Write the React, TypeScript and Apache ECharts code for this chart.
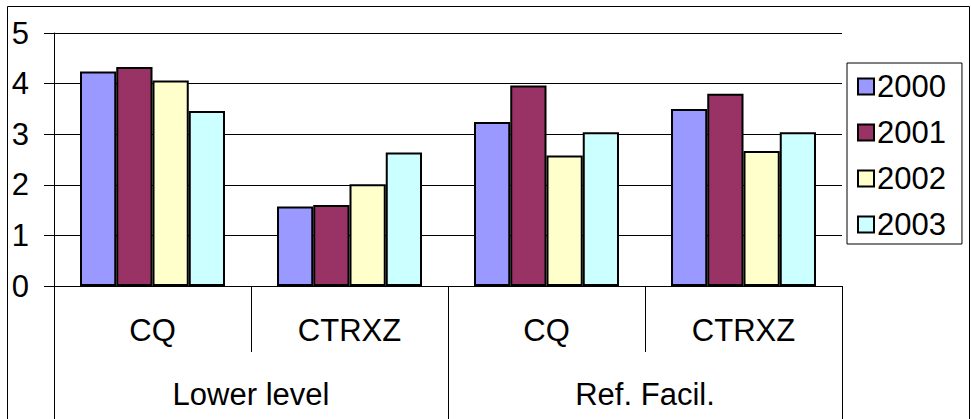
import React, { useEffect, useRef } from "react";
import * as echarts from "echarts";

const subCategories = ["CQ", "CTRXZ", "CQ", "CTRXZ"];
const groupCategories = ["Lower level", "Ref. Facil."];
const seriesNames = ["2000", "2001", "2002", "2003"];
const values2000 = [4.24, 1.57, 3.24, 3.5];
const values2001 = [4.33, 1.6, 3.96, 3.8];
const values2002 = [4.06, 2.01, 2.58, 2.67];
const values2003 = [3.46, 2.64, 3.04, 3.04];
const colors = ["#9999FF", "#993366", "#FFFFCC", "#CCFFFF"];

const FONT = "'Liberation Sans', Arial, sans-serif";
const FS = 31;

export default function App() {
  const ref = useRef<HTMLDivElement>(null);
  useEffect(() => {
    if (!ref.current) return;
    const chart = echarts.init(ref.current, null, { renderer: "svg" });
    const allValues = [values2000, values2001, values2002, values2003];
    chart.setOption({
      animation: false,
      backgroundColor: "#fff",
      textStyle: { fontFamily: FONT },
      graphic: [
        {
          type: "rect",
          shape: { x: 7.5, y: 6.5, width: 962, height: 430 },
          style: { fill: "none", stroke: "#000", lineWidth: 1 },
          silent: true,
          z: 0,
        },
      ],
      grid: { left: 54, top: 33, width: 788, height: 253, containLabel: false },
      legend: {
        orient: "vertical",
        left: 847,
        top: 63,
        padding: [8, 16, 4, 10],
        itemGap: 15,
        itemWidth: 16,
        itemHeight: 16,
        icon: "rect",
        backgroundColor: "#fff",
        borderColor: "#000",
        borderWidth: 1,
        data: seriesNames,
        textStyle: { fontSize: FS, color: "#000", fontFamily: FONT, lineHeight: 30, padding: [0, 0, 0, -2] },
        z: 10,
      },
      xAxis: [
        {
          type: "category",
          data: subCategories,
          position: "bottom",
          axisLine: { show: true, lineStyle: { color: "#000", width: 1 } },
          axisTick: { show: true, length: 66, interval: 0, lineStyle: { color: "#000" } },
          axisLabel: { interval: 0, margin: 29, fontSize: FS, color: "#000", fontFamily: FONT },
          splitLine: { show: false },
        },
        {
          type: "category",
          data: groupCategories,
          position: "bottom",
          axisLine: { show: false },
          axisTick: { show: true, length: 140, interval: 0, lineStyle: { color: "#000" } },
          axisLabel: { interval: 0, margin: 93, fontSize: FS, color: "#000", fontFamily: FONT },
          splitLine: { show: false },
        },
      ],
      yAxis: {
        type: "value",
        min: 0,
        max: 5,
        interval: 1,
        axisLine: { show: true, lineStyle: { color: "#000", width: 1 } },
        axisTick: { show: true, length: 10, lineStyle: { color: "#000" } },
        axisLabel: { margin: 25, fontSize: FS, color: "#000", fontFamily: FONT },
        splitLine: { show: true, lineStyle: { color: "#000", width: 1 } },
      },
      series: seriesNames.map((name, i) => ({
        name,
        type: "bar",
        xAxisIndex: 0,
        data: allValues[i],
        barGap: "0%",
        barCategoryGap: "26.4%",
        itemStyle: { color: colors[i], borderColor: "#000", borderWidth: 2 },
      })),
    });
    return () => chart.dispose();
  }, []);
  return (
    <div
      ref={ref}
      style={{ position: "absolute", left: 0, top: 0, width: 971, height: 419 }}
    />
  );
}
